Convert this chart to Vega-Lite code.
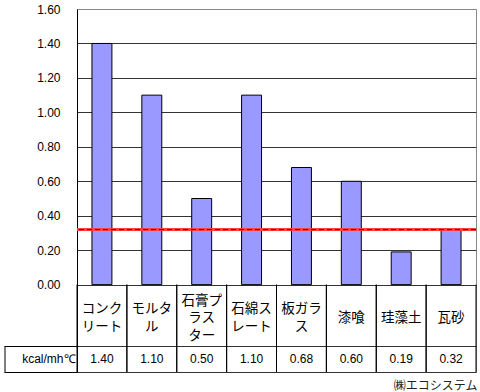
{
  "$schema": "https://vega.github.io/schema/vega-lite/v6.json",
  "width": 399,
  "height": 363,
  "autosize": "none",
  "padding": {"left": 77, "top": 9, "right": 4, "bottom": 20},
  "background": "white",
  "title": {"text": "㈱エコシステム", "orient": "bottom", "anchor": "end", "fontSize": 12, "fontWeight": "normal", "font": "Noto Sans CJK JP", "color": "#222", "offset": 3},
  "config": {"view": {"stroke": "#888", "strokeWidth": 1}},
  "resolve": {"axis": {"y": "independent"}},
  "data": {"values": [
    {"name": "コンクリート", "label": "コンク\nリート", "value": 1.40},
    {"name": "モルタル", "label": "モルタ\nル", "value": 1.10},
    {"name": "石膏プラスター", "label": "石膏プ\nラス\nター", "value": 0.50},
    {"name": "石綿スレート", "label": "石綿ス\nレート", "value": 1.10},
    {"name": "板ガラス", "label": "板ガラ\nス", "value": 0.68},
    {"name": "漆喰", "label": "漆喰", "value": 0.60},
    {"name": "珪藻土", "label": "珪藻土", "value": 0.19},
    {"name": "瓦砂", "label": "瓦砂", "value": 0.32}
  ]},
  "encoding": {
    "x": {"field": "name", "type": "nominal", "sort": null, "scale": {"paddingInner": 0, "paddingOuter": 0}, "axis": null}
  },
  "layer": [
    {
      "mark": {"type": "bar", "color": "#9999FF", "stroke": "black", "strokeWidth": 1, "width": {"band": 0.4}},
      "encoding": {
        "y": {"field": "value", "type": "quantitative", "scale": {"domain": [-0.507, 1.6], "nice": false, "zero": false},
          "axis": {
            "title": null,
            "orient": "left",
            "values": [1.6, 1.4, 1.2, 1.0, 0.8, 0.6, 0.4, 0.2, 0, -0.354, -0.43, -0.507],
            "tickCount": 40,
            "labelExpr": "datum.value == -0.43 ? 'kcal/mh℃' : (datum.value < 0 ? '' : format(datum.value, '.2f'))",
            "labelFont": "Liberation Sans",
            "labelFontSize": 12,
            "labelColor": "black",
            "labelOverlap": false,
            "labelFlush": false,
            "labelBound": false,
            "labelPadding": {"condition": {"test": "datum.value == -0.43", "value": -71}, "value": -56},
            "domain": true,
            "domainColor": "black",
            "domainWidth": 1,
            "ticks": true,
            "tickSize": 73,
            "tickColor": "black",
            "tickOpacity": {"condition": {"test": "datum.value == -0.354 || datum.value == -0.507", "value": 1}, "value": 0},
            "grid": true,
            "gridColor": {"condition": [{"test": "datum.value == -0.43", "value": "transparent"}, {"test": "datum.value == 1.6", "value": "#888"}], "value": "#333"},
            "gridOpacity": 1
          }
        }
      }
    },
    {
      "mark": {"type": "rule", "color": "black", "strokeWidth": 1},
      "encoding": {
        "x": {"field": "name", "type": "nominal", "sort": null, "bandPosition": 0},
        "y": {"datum": 0, "axis": null},
        "y2": {"datum": -0.507}
      }
    },
    {
      "mark": {"type": "rule", "color": "black", "strokeWidth": 1},
      "encoding": {
        "x": {"field": "name", "type": "nominal", "sort": null, "bandPosition": 1},
        "y": {"datum": 0, "axis": null},
        "y2": {"datum": -0.507}
      }
    },
    {
      "mark": {"type": "rule", "color": "#FF4040", "strokeWidth": 3, "opacity": 0.8},
      "encoding": {"y": {"datum": 0.32, "axis": null}, "x": null}
    },
    {
      "mark": {"type": "rule", "color": "#8B0000", "strokeWidth": 1, "strokeDash": [5, 3]},
      "encoding": {"y": {"datum": 0.32, "axis": null}, "x": null}
    },
    {
      "mark": {"type": "text", "font": "Noto Sans CJK JP", "fontSize": 13.5, "lineHeight": 17.5, "lineBreak": "\n", "baseline": "middle", "align": "center", "color": "black",
        "dy": {"expr": "-(length(split(datum.label, '\\n')) - 1) * 8.75"}},
      "encoding": {
        "y": {"datum": -0.195, "axis": null},
        "text": {"field": "label", "type": "nominal"}
      }
    },
    {
      "mark": {"type": "text", "font": "Liberation Sans", "fontSize": 12, "baseline": "middle", "align": "center", "color": "black"},
      "encoding": {
        "y": {"datum": -0.43,
          "axis": {"orient": "left", "offset": 72, "title": null, "values": [-0.43], "labels": false, "domain": false, "grid": false,
            "ticks": true, "tickSize": 1, "tickWidth": 26, "tickColor": "black"}},
        "text": {"field": "value", "type": "quantitative", "format": ".2f"}
      }
    }
  ]
}
